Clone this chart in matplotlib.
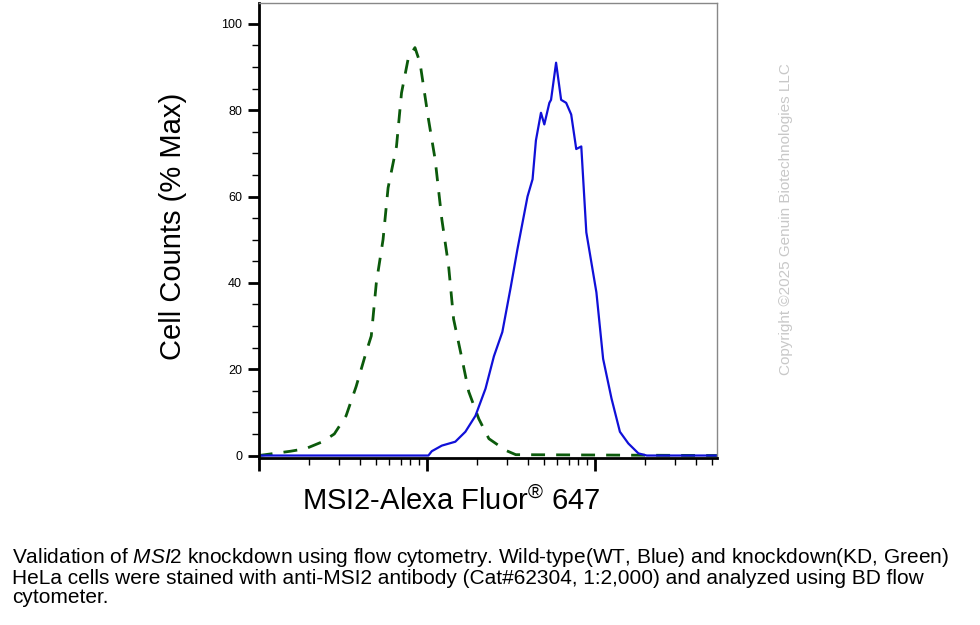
import numpy as np
import matplotlib.pyplot as plt
from matplotlib.ticker import LogLocator, MultipleLocator, NullFormatter

plt.rcParams['font.family'] = ['Liberation Sans', 'DejaVu Sans']
plt.rcParams['mathtext.fontset'] = 'custom'
plt.rcParams['mathtext.rm'] = 'Liberation Sans'
plt.rcParams['mathtext.it'] = 'Liberation Sans:italic'

# log10 fluorescence / % max
wt_log = [2.0, 3.01, 3.03, 3.09, 3.17, 3.23, 3.29, 3.35, 3.40, 3.45, 3.50, 3.54, 3.60, 3.63,
          3.65, 3.68, 3.70, 3.73, 3.74, 3.77, 3.80, 3.83, 3.86, 3.89, 3.92, 3.95, 4.01,
          4.05, 4.10, 4.15, 4.20, 4.26, 4.31, 4.73]
wt_pct = [0, 0, 1.0, 2.3, 3.2, 5.5, 9.2, 15.5, 23, 28.6, 39, 47.8, 60, 64,
          73, 79.4, 76.7, 81.7, 82.4, 91, 82.4, 81.7, 79, 71, 71.6, 51.7, 37.8,
          22.4, 13.2, 5.5, 2.8, 0.5, 0, 0]
kd_log = [2.0, 2.19, 2.28, 2.38, 2.45, 2.52, 2.58, 2.64, 2.67, 2.70, 2.74, 2.77, 2.82, 2.85,
          2.89, 2.93, 2.96, 3.01, 3.05, 3.09, 3.13, 3.16, 3.21, 3.25, 3.31, 3.37, 3.47,
          3.53, 4.73]
kd_pct = [0, 1.0, 1.6, 3.2, 5, 9.2, 16, 24, 27.7, 40, 50, 62, 71.6, 84,
          92, 94.5, 91, 78, 68.6, 54.7, 44, 31.6, 22.4, 14.8, 8.5, 3.9, 1.2,
          0.2, 0]

fig = plt.figure(figsize=(9.8, 6.25), dpi=100)
ax = fig.add_axes([0.264, 0.267, 0.468, 0.728])

ax.plot(10 ** np.array(kd_log), kd_pct, color='#0b5a0b', lw=2, dashes=(5, 4))
ax.plot(10 ** np.array(wt_log), wt_pct, color='#1010d8', lw=1.6)

ax.set_xscale('log')
ax.set_xlim(100, 10 ** 4.73)
ax.set_ylim(-0.6, 104.8)
ax.xaxis.set_major_locator(LogLocator(base=10, numticks=10))
ax.xaxis.set_minor_locator(LogLocator(base=10, subs=np.arange(2, 10), numticks=20))
ax.xaxis.set_major_formatter(NullFormatter())
ax.xaxis.set_minor_formatter(NullFormatter())
ax.yaxis.set_major_locator(MultipleLocator(20))
ax.yaxis.set_minor_locator(MultipleLocator(5))

ax.tick_params(axis='y', which='major', direction='out', length=8, width=2, labelsize=9, pad=4)
ax.tick_params(axis='y', which='minor', direction='out', length=5, width=1)
ax.tick_params(axis='x', which='major', direction='out', length=9, width=2)
ax.tick_params(axis='x', which='minor', direction='out', length=5, width=1)
ax.spines['left'].set_linewidth(2)
ax.spines['bottom'].set_linewidth(2)
for s in ('top', 'right'):
    ax.spines[s].set_color('#888888')
    ax.spines[s].set_linewidth(1)

ax.set_ylabel('Cell Counts (% Max)', fontsize=21)
ax.yaxis.set_label_coords(-0.156, 0.51)
ax.set_xlabel('MSI2-Alexa Fluor$^{\\mathrm{®}}$ 647', fontsize=21)
ax.xaxis.set_label_coords(0.42, -0.062)

fig.text(0.802, 0.65, 'Copyright ©2025 Genuin Biotechnologies LLC', rotation=90,
         color='#c8c8c8', fontsize=11, ha='center', va='center')

fig.text(0.012, 0.077, 'Validation of $\\mathit{MSI2}$ knockdown using flow cytometry. Wild-type(WT, Blue) '
         'and knockdown(KD, Green)\nHeLa cells were stained with anti-MSI2 antibody (Cat#62304, '
         '1:2,000) and analyzed using BD flow\ncytometer.',
         fontsize=15, va='center', ha='left', linespacing=1.0)

fig.savefig('out.png', dpi=100)
